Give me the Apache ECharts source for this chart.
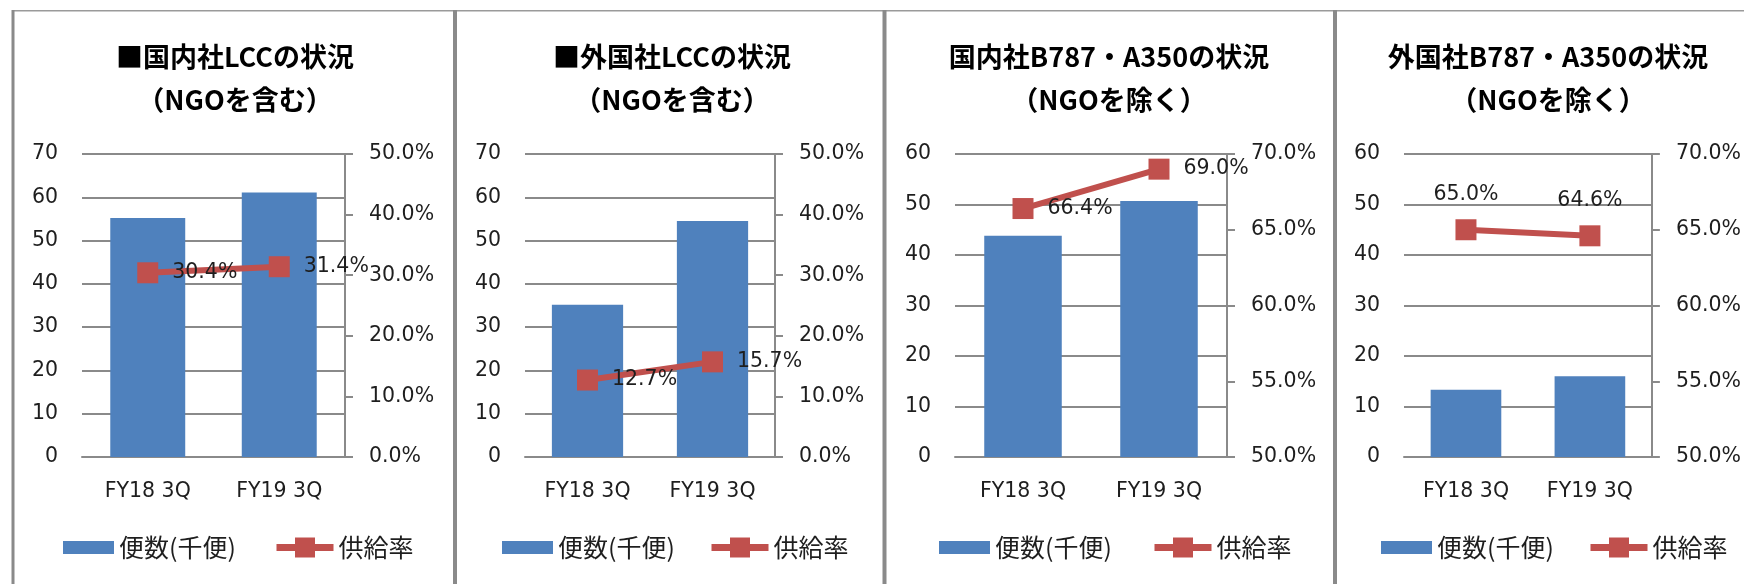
<!DOCTYPE html>
<html>
<head>
<meta charset="utf-8">
<script src="https://cdn.jsdelivr.net/npm/echarts@6/dist/echarts.min.js"></script>
<style>
html,body{margin:0;padding:0;background:#fff;}
#chart{width:1744px;height:584px;}
</style>
</head>
<body>
<div id="chart"></div>
<script>
// ---- data ----
const categories = ['FY18 3Q', 'FY19 3Q'];
const titleLine1 = ['■国内社LCCの状況', '■外国社LCCの状況', '国内社B787・A350の状況', '外国社B787・A350の状況'];
const titleLine2 = ['（NGOを含む）', '（NGOを含む）', '（NGOを除く）', '（NGOを除く）'];
const barName = '便数(千便)';
const lineName = '供給率';
const flightsDomesticLCC = [55.2, 61.1];
const rateDomesticLCC = [30.4, 31.4];
const flightsForeignLCC = [35.2, 54.5];
const rateForeignLCC = [12.7, 15.7];
const flightsDomesticWide = [43.8, 50.7];
const rateDomesticWide = [66.4, 69.0];
const flightsForeignWide = [13.3, 16.0];
const rateForeignWide = [65.0, 64.6];
const leftAxisMax = [70, 70, 60, 60];
const rightAxisMin = [0, 0, 50, 50];
const rightAxisMax = [50, 50, 70, 70];
const rightAxisInterval = [10, 10, 5, 5];

// ---- layout / style ----
const flights = [flightsDomesticLCC, flightsForeignLCC, flightsDomesticWide, flightsForeignWide];
const rates = [rateDomesticLCC, rateForeignLCC, rateDomesticWide, rateForeignWide];
const panels = [
  {gridLeft: 82, gridWidth: 263, titleX: 235, barLeg: 63, lineLeg: 273, labelPos: 'right'},
  {gridLeft: 525, gridWidth: 250, titleX: 672, barLeg: 502, lineLeg: 708, labelPos: 'right'},
  {gridLeft: 955, gridWidth: 272, titleX: 1109, barLeg: 939, lineLeg: 1151, labelPos: 'right'},
  {gridLeft: 1404, gridWidth: 249, titleX: 1548, barLeg: 1381, lineLeg: 1587, labelPos: 'top'}
];
const GRID_TOP = 154, GRID_H = 303;
const LEGEND_TOP = 535;
const gray = '#8a8a8a';
const textColor = '#1e1e1e';
const numFont = "'DejaVu Sans', 'Noto Sans CJK JP', sans-serif";
const jpFont = "'Noto Sans CJK JP', 'Noto Sans', sans-serif";
const blue = '#4F81BD', red = '#C0504D';

const grid = [], xAxis = [], yAxis = [], series = [], legend = [], graphic = [];

// borders
graphic.push({type: 'line', shape: {x1: 12, y1: 10.8, x2: 1744, y2: 10.8}, style: {stroke: '#9a9a9a', lineWidth: 1.6}, z: 100});
[13, 455, 884.5, 1335].forEach((x, i) => {
  graphic.push({type: 'line', shape: {x1: x, y1: 10, x2: x, y2: 584}, style: {stroke: gray, lineWidth: i === 0 ? 3 : 4}, z: 100});
});

panels.forEach((p, i) => {
  grid.push({left: p.gridLeft, top: GRID_TOP, width: p.gridWidth, height: GRID_H, containLabel: false});
  xAxis.push({
    type: 'category', gridIndex: i, data: categories,
    axisLine: {show: true, lineStyle: {color: gray, width: 2}},
    axisTick: {show: false},
    axisLabel: {fontSize: 20.5, fontFamily: numFont, color: textColor, margin: 24},
    splitLine: {show: false}
  });
  yAxis.push({
    type: 'value', gridIndex: i, position: 'left', min: 0, max: leftAxisMax[i], interval: 10,
    axisLine: {show: false}, axisTick: {show: false},
    axisLabel: {fontSize: 20.5, fontFamily: numFont, color: textColor, margin: 24},
    splitLine: {show: true, lineStyle: {color: gray, width: 2}}
  });
  yAxis.push({
    type: 'value', gridIndex: i, position: 'right', min: rightAxisMin[i], max: rightAxisMax[i], interval: rightAxisInterval[i],
    axisLine: {show: true, lineStyle: {color: gray, width: 2}},
    axisTick: {show: true, inside: false, length: 8, lineStyle: {color: gray, width: 2}},
    axisLabel: {fontSize: 20.5, fontFamily: numFont, color: textColor, margin: 24, formatter: v => v.toFixed(1) + '%'},
    splitLine: {show: false}
  });
  series.push({
    type: 'bar', name: barName, xAxisIndex: i, yAxisIndex: 2 * i, data: flights[i],
    barWidth: '57%', itemStyle: {color: blue}, z: 2
  });
  series.push({
    type: 'line', name: lineName, xAxisIndex: i, yAxisIndex: 2 * i + 1, data: rates[i],
    symbol: 'rect', symbolSize: 21,
    lineStyle: {color: red, width: 6}, itemStyle: {color: red},
    label: {show: true, position: p.labelPos, distance: 14, fontSize: 20.5, fontFamily: numFont, color: textColor,
      formatter: o => o.value.toFixed(1) + '%'},
    z: 5
  });
  legend.push({
    data: [{name: barName, icon: 'rect'}], left: p.barLeg, top: LEGEND_TOP, itemWidth: 51, itemHeight: 13, itemGap: 0, padding: 0,
    textStyle: {fontSize: 25, fontFamily: jpFont, color: textColor}, selectedMode: false
  });
  legend.push({
    data: [{name: lineName, lineStyle: {width: 7, color: red}}], left: p.lineLeg, top: LEGEND_TOP, itemWidth: 57, itemHeight: 25, itemGap: 0, padding: 0,
    lineStyle: {width: 7},
    textStyle: {fontSize: 25, fontFamily: jpFont, color: textColor}, selectedMode: false
  });
  graphic.push({type: 'text', x: p.titleX, y: 57, z: 100,
    style: {text: titleLine1[i], align: 'center', verticalAlign: 'middle', textAlign: 'center', textVerticalAlign: 'middle',
      fontSize: 27, fontWeight: 'bold', fontFamily: jpFont, fill: '#000'}});
  graphic.push({type: 'text', x: p.titleX, y: 100, z: 100,
    style: {text: titleLine2[i], align: 'center', verticalAlign: 'middle', textAlign: 'center', textVerticalAlign: 'middle',
      fontSize: 27, fontWeight: 'bold', fontFamily: jpFont, fill: '#000'}});
});

const chart = echarts.init(document.getElementById('chart'), null, {renderer: 'canvas'});
chart.setOption({
  animation: false,
  backgroundColor: '#fff',
  grid, xAxis, yAxis, series, legend, graphic
});
</script>
</body>
</html>
